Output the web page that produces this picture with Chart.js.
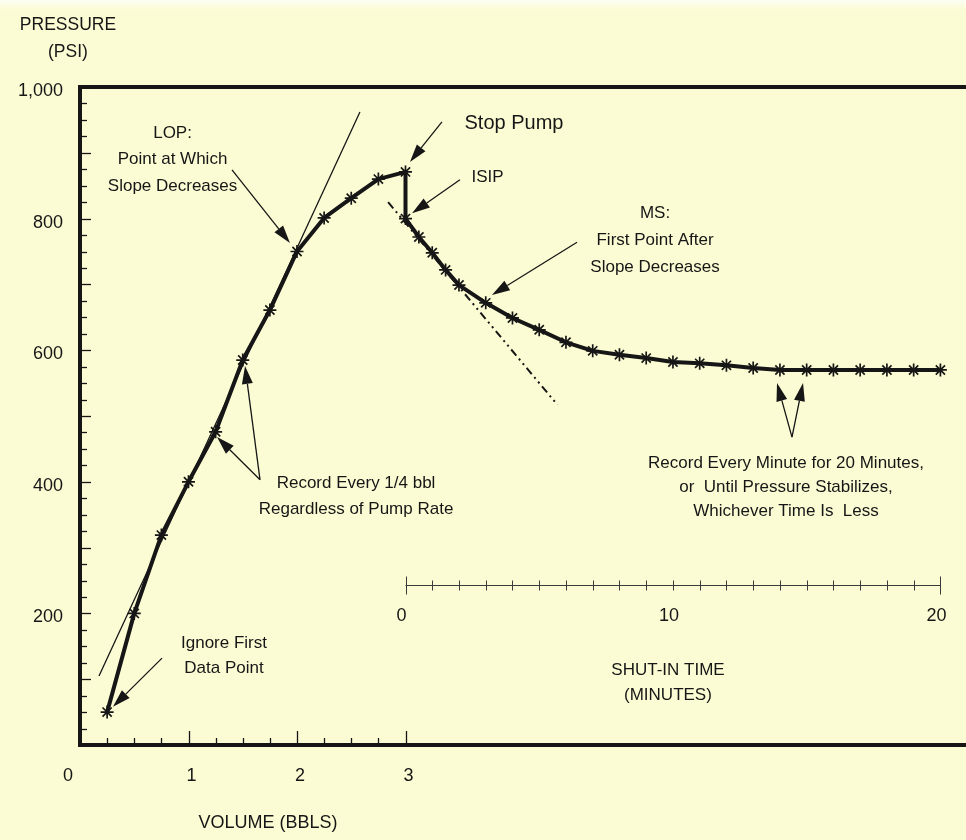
<!DOCTYPE html>
<html>
<head>
<meta charset="utf-8">
<script src="https://cdn.jsdelivr.net/npm/chart.js@4/dist/chart.umd.min.js"></script>
<style>
  html, body { margin: 0; padding: 0; background: #fcfcd4; }
  #wrap { position: relative; width: 966px; height: 840px; background: linear-gradient(#fdfdf2 0px, #fcfcd4 10px); }
  canvas { display: block; }
</style>
</head>
<body>
<div id="wrap"><canvas id="c" width="966" height="840"></canvas></div>
<script>
// ---------- DATA ----------
// pumping phase: volume pumped (bbl) vs pressure (psi)
const volumeBbl    = [0.25, 0.5, 0.75, 1.0, 1.25, 1.5, 1.75, 2.0, 2.25, 2.5, 2.75, 3.0];
const pumpPressure = [50,   200, 319,  400, 476,  585, 661,  750, 801,  831, 860,  871];
// shut-in phase: time (min) vs pressure (psi); first entry = stop-pump pressure at t=0
const shutInMin      = [0,   0,   0.5, 1,   1.5, 2,   3,   4,   5,   6,   7,   8,   9,   10,  11,  12,  13,  14,  15,  16,  17,  18,  19,  20];
const shutInPressure = [871, 800, 772, 748, 722, 699, 672, 649, 631, 612, 599, 593, 588, 582, 580, 577, 573, 570, 570, 570, 570, 570, 570, 570];
// tangent line used to pick LOP (volume, pressure)
const lopTangentVol = [0.175, 2.58];
const lopTangentP   = [105, 962];
// dash-dot extrapolation of early shut-in slope (time, pressure)
const msTrendMin = [-0.65, 5.68];
const msTrendP   = [825, 517];
// tick labels
const pressureTickLabels = [200, 400, 600, 800, 1000];
const volumeTickLabels   = [0, 1, 2, 3];
const timeTickLabels     = [0, 10, 20];
const timeAxisRange      = [0, 20];
const volumeTickEnd      = 3;

// ---------- layout constants ----------
const AREA = { left: 80, top: 87, right: 966, bottom: 745 };
const PX_PER_BBL = 108.5;
const BBL_PER_MIN = 0.2465;         // shut-in time axis scaled onto the volume axis
const SHUTIN_START_BBL = 3.0;
const volMax = (AREA.right - AREA.left) / PX_PER_BBL;
const tMin = (0 - SHUTIN_START_BBL) / BBL_PER_MIN;
const tMax = (volMax - SHUTIN_START_BBL) / BBL_PER_MIN;
const TIME_AXIS_PRESSURE = 243;     // where the shut-in time axis crosses the pressure scale

const INK = '#161616';
const SANS = '"Liberation Sans", Arial, sans-serif';

// annotations (data coordinates on volume / pressure scales)
const arrows = [
  { from: [1.401, 874], to: [1.935, 763] },   // LOP
  { from: [3.336, 947], to: [3.041, 886] },   // Stop Pump
  { from: [3.502, 859], to: [3.060, 808] },   // ISIP
  { from: [4.581, 764], to: [3.797, 684] },   // MS
  { from: [1.659, 403], to: [1.521, 576] },   // 1/4 bbl upper
  { from: [1.659, 403], to: [1.263, 468] },   // 1/4 bbl lower
  { from: [0.756, 132], to: [0.304, 58] },    // ignore first
  { from: [6.562, 468], to: [6.424, 550] },   // every minute
  { from: [6.562, 468], to: [6.664, 550] }
];
const notes = [
  { lines: ['LOP:', 'Point at Which', 'Slope Decreases'], at: [0.853, 930], size: 17, lh: 26.5 },
  { lines: ['Stop Pump'], at: [4.000, 945], size: 20, lh: 26 },
  { lines: ['ISIP'], at: [3.756, 862], size: 17, lh: 26 },
  { lines: ['MS:', 'First Point After', 'Slope Decreases'], at: [5.300, 808], size: 17, lh: 27 },
  { lines: ['Record Every 1/4 bbl', 'Regardless of Pump Rate'], at: [2.544, 398], size: 17, lh: 26 },
  { lines: ['Ignore First', 'Data Point'], at: [1.327, 155], size: 17, lh: 25 },
  { lines: ['Record Every Minute for 20 Minutes,', 'or  Until Pressure Stabilizes,', 'Whichever Time Is  Less'], at: [6.507, 428], size: 17, lh: 24 },
  { lines: ['SHUT-IN TIME', '(MINUTES)'], at: [5.419, 114], size: 17, lh: 25 },
  { lines: ['VOLUME (BBLS)'], at: [1.733, -118], size: 18, lh: 24 },
  { lines: ['PRESSURE', '(PSI)'], at: [-0.111, 1094], size: 17.5, lh: 27 }
];

const near = (a, b) => Math.abs(a - b) < 1e-6;
const isWhole = v => near(v, Math.round(v));

const decor = {
  id: 'decor',
  afterDraw(chart) {
    const { ctx, chartArea: a, scales } = chart;
    const x = scales.x, y = scales.y, x2 = scales.x2;
    ctx.save();
    ctx.strokeStyle = INK; ctx.fillStyle = INK; ctx.lineCap = 'butt';
    // top frame line
    ctx.lineWidth = 4;
    ctx.beginPath(); ctx.moveTo(a.left - 2, a.top); ctx.lineTo(a.right, a.top); ctx.stroke();
    // inward ticks on volume axis
    ctx.lineWidth = 1.3;
    x.ticks.forEach(t => {
      if (t.value > volumeTickEnd + 1e-6) return;
      const px = Math.round(x.getPixelForValue(t.value)) + 0.5;
      const len = isWhole(t.value) ? 12 : 5;
      ctx.beginPath(); ctx.moveTo(px, a.bottom - 2); ctx.lineTo(px, a.bottom - 2 - len); ctx.stroke();
    });
    // inward ticks on pressure axis
    y.ticks.forEach(t => {
      const py = Math.round(y.getPixelForValue(t.value)) + 0.5;
      const len = isWhole(t.value / 100) ? 9 : 5;
      ctx.beginPath(); ctx.moveTo(a.left + 2, py); ctx.lineTo(a.left + 2 + len, py); ctx.stroke();
    });
    // shut-in time axis line + crossing ticks
    const ay = Math.round(y.getPixelForValue(TIME_AXIS_PRESSURE)) + 0.5;
    ctx.strokeStyle = '#3a3a3a'; ctx.lineWidth = 1;
    ctx.beginPath();
    ctx.moveTo(x2.getPixelForValue(timeAxisRange[0]), ay);
    ctx.lineTo(x2.getPixelForValue(timeAxisRange[1]), ay);
    ctx.stroke();
    x2.ticks.forEach(t => {
      if (t.value < timeAxisRange[0] - 1e-6 || t.value > timeAxisRange[1] + 1e-6) return;
      if (!isWhole(t.value)) return;
      const px = Math.round(x2.getPixelForValue(t.value)) + 0.5;
      const len = (near(t.value, timeAxisRange[0]) || near(t.value, timeAxisRange[1])) ? 9 : 5;
      ctx.beginPath(); ctx.moveTo(px, ay - len); ctx.lineTo(px, ay + len); ctx.stroke();
    });
    // arrows
    ctx.strokeStyle = INK; ctx.fillStyle = INK;
    arrows.forEach(ar => {
      const x1 = x.getPixelForValue(ar.from[0]), y1 = y.getPixelForValue(ar.from[1]);
      const x2p = x.getPixelForValue(ar.to[0]), y2p = y.getPixelForValue(ar.to[1]);
      const ang = Math.atan2(y2p - y1, x2p - x1);
      const hl = 18, hw = 5.5;
      const bx = x2p - hl * Math.cos(ang), by = y2p - hl * Math.sin(ang);
      ctx.lineWidth = 1.3;
      ctx.beginPath(); ctx.moveTo(x1, y1); ctx.lineTo(bx, by); ctx.stroke();
      ctx.beginPath();
      ctx.moveTo(x2p, y2p);
      ctx.lineTo(bx + hw * Math.sin(ang), by - hw * Math.cos(ang));
      ctx.lineTo(bx - hw * Math.sin(ang), by + hw * Math.cos(ang));
      ctx.closePath(); ctx.fill();
    });
    // text notes
    ctx.textAlign = 'center'; ctx.textBaseline = 'middle';
    notes.forEach(n => {
      ctx.font = n.size + 'px ' + SANS;
      const cx = x.getPixelForValue(n.at[0]), cy = y.getPixelForValue(n.at[1]);
      n.lines.forEach((ln, i) => ctx.fillText(ln, cx, cy + i * n.lh));
    });
    ctx.restore();
  }
};

Chart.defaults.font.family = SANS;
Chart.defaults.font.size = 18;
Chart.defaults.color = INK;

const pumpData = volumeBbl.map((v, i) => ({ x: v, y: pumpPressure[i] }));
const shutData = shutInMin.map((t, i) => ({ x: t, y: shutInPressure[i] }));
const tangentData = lopTangentVol.map((v, i) => ({ x: v, y: lopTangentP[i] }));
const trendData = msTrendMin.map((t, i) => ({ x: t, y: msTrendP[i] }));

new Chart(document.getElementById('c'), {
  type: 'line',
  data: {
    datasets: [
      { label: 'Pumping', data: pumpData, xAxisID: 'x', yAxisID: 'y',
        borderColor: INK, borderWidth: 4, borderJoinStyle: 'round', tension: 0,
        pointStyle: 'star', pointRadius: 6.5, pointBorderWidth: 1.7, pointBorderColor: INK, pointBackgroundColor: INK, order: 1 },
      { label: 'Shut-in', data: shutData, xAxisID: 'x2', yAxisID: 'y',
        borderColor: INK, borderWidth: 4, borderJoinStyle: 'round', tension: 0,
        pointStyle: 'star', pointRadius: c => c.dataIndex === 0 ? 0 : 6.5,
        pointBorderWidth: 1.7, pointBorderColor: INK, pointBackgroundColor: INK, order: 1 },
      { label: 'LOP tangent', data: tangentData, xAxisID: 'x', yAxisID: 'y',
        borderColor: INK, borderWidth: 1.3, pointRadius: 0, tension: 0, order: 2 },
      { label: 'Trend', data: trendData, xAxisID: 'x2', yAxisID: 'y',
        borderColor: INK, borderWidth: 2, borderDash: [8, 4, 2, 4, 2, 4], pointRadius: 0, tension: 0, order: 2 }
    ]
  },
  options: {
    responsive: false,
    animation: false,
    layout: { autoPadding: false, padding: { top: AREA.top, left: 0, right: 0, bottom: 0 } },
    plugins: { legend: { display: false }, tooltip: { enabled: false }, title: { display: false } },
    scales: {
      x: {
        type: 'linear', position: 'bottom', min: 0, max: volMax,
        afterFit: s => { s.height = 840 - AREA.bottom; },
        grid: { display: false, drawTicks: true, tickLength: 20 },
        border: { display: true, color: INK, width: 4 },
        ticks: {
          stepSize: 0.25, includeBounds: false, autoSkip: false, maxRotation: 0, padding: 0, labelOffset: 3,
          font: { size: 18, family: SANS },
          callback: v => volumeTickLabels.some(l => near(l, v)) ? (near(v, 0) ? '0      ' : String(Math.round(v))) : ''
        }
      },
      x2: {
        type: 'linear', axis: 'x', position: { y: TIME_AXIS_PRESSURE }, min: tMin, max: tMax,
        grid: { display: false, drawTicks: true, tickLength: 20 },
        border: { display: false },
        ticks: {
          stepSize: 1, includeBounds: false, autoSkip: false, maxRotation: 0, padding: 0, labelOffset: -4,
          font: { size: 18, family: SANS },
          callback: v => timeTickLabels.some(l => near(l, v)) ? String(Math.round(v)) : ''
        }
      },
      y: {
        type: 'linear', position: 'left', min: 0, max: 1000,
        afterFit: s => { s.width = AREA.left; },
        grid: { display: false, drawTicks: true, tickLength: 17 },
        border: { display: true, color: INK, width: 4 },
        ticks: {
          stepSize: 25, autoSkip: false, padding: 0, labelOffset: 4,
          font: { size: 18, family: SANS },
          callback: v => pressureTickLabels.some(l => near(l, v)) ? Number(v).toLocaleString('en-US') : ''
        }
      }
    }
  },
  plugins: [decor]
});
</script>
</body>
</html>
